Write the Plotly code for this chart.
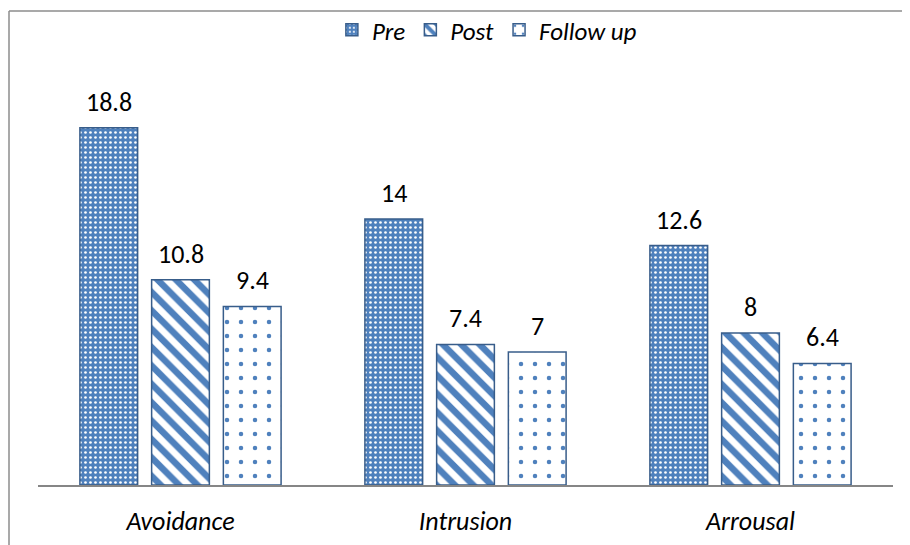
import plotly.graph_objects as go

categories = ["Avoidance", "Intrusion", "Arrousal"]
series_names = ["Pre", "Post", "Follow up"]
pre_values = [18.8, 14, 12.6]
post_values = [10.8, 7.4, 8]
follow_values = [9.4, 7, 6.4]

FONT = "Carlito, Lato, 'Liberation Sans', sans-serif"
FILL = "#4F81BD"
EDGE = "#385D8A"

patterns = [
    dict(shape=".", bgcolor=FILL, fgcolor="white", fgopacity=1, size=5, solidity=0.22),
    dict(shape="\\", bgcolor="white", fgcolor=FILL, fgopacity=1, size=13, solidity=0.5),
    dict(shape=".", bgcolor="white", fgcolor=FILL, fgopacity=1, size=14, solidity=0.08),
]

fig = go.Figure()
all_values = [pre_values, post_values, follow_values]
for name, vals, pat in zip(series_names, all_values, patterns):
    fig.add_trace(go.Bar(
        name=name, x=categories, y=vals,
        marker=dict(color=FILL, pattern=pat, line=dict(color=EDGE, width=1.5)),
    ))

# page has an 8px body margin: figure is sized so it fits the 910x545 window
W, H = 902, 537
L, R, T, B = 30, 17, 97, 60
plot_w = W - L - R
plot_h = H - T - B

BARGAP = 0.245
slot_px = plot_w / 3 * (1 - BARGAP) / 3
annotations = []
for j, vals in enumerate(all_values):
    for cat, v in zip(categories, vals):
        annotations.append(dict(
            x=cat, y=v, xref="x", yref="y", text=f"{v:g}", showarrow=False,
            xshift=(j - 1) * slot_px, yshift=26, yanchor="middle",
            font=dict(family=FONT, size=26, color="black"),
        ))

bx = (1 - L) / plot_w
by = (T + plot_h - 3) / plot_h

fig.update_layout(
    width=W, height=H,
    margin=dict(l=L, r=R, t=T, b=B, autoexpand=False),
    paper_bgcolor="white", plot_bgcolor="white",
    barmode="group", bargap=BARGAP, bargroupgap=0.195,
    font=dict(family=FONT, size=26, color="black"),
    showlegend=True,
    legend=dict(
        orientation="h", x=0.525, xanchor="center",
        y=(plot_h + T - 22) / plot_h, yanchor="middle",
        font=dict(family=FONT, size=25, style="italic"),
        itemwidth=30, tracegroupgap=0, bgcolor="rgba(0,0,0,0)",
    ),
    xaxis=dict(
        showline=True, linecolor="#868686", linewidth=2,
        ticks="outside", ticklen=12, tickcolor="rgba(0,0,0,0)",
        tickfont=dict(family=FONT, size=26, style="italic"),
        showgrid=False, zeroline=False, fixedrange=True, automargin=False,
    ),
    yaxis=dict(range=[0, 20], visible=False, fixedrange=True),
    annotations=annotations,
    shapes=[
        dict(type="line", xref="paper", yref="paper", x0=bx, x1=bx, y0=-0.5, y1=by,
             line=dict(color="#8C8C8C", width=1.5)),
        dict(type="line", xref="paper", yref="paper", x0=bx, x1=1.2, y0=by, y1=by,
             line=dict(color="#8C8C8C", width=1.5)),
    ],
)

fig.write_html("out.html")
